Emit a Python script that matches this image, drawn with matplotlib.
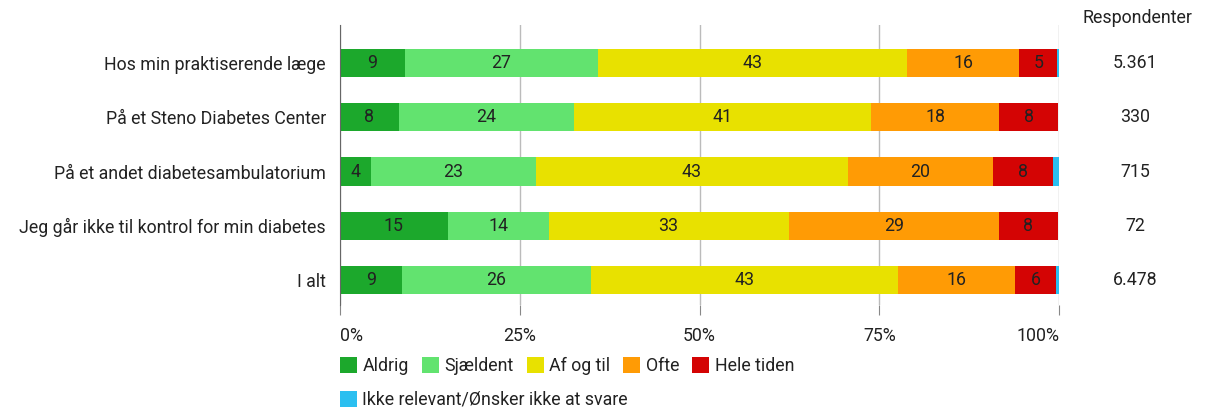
import matplotlib.pyplot as plt
import numpy as np

plt.rcParams['font.family'] = ['Roboto', 'DejaVu Sans']

# data (percent of respondents)
categories = ["Hos min praktiserende læge", "På et Steno Diabetes Center",
              "På et andet diabetesambulatorium",
              "Jeg går ikke til kontrol for min diabetes", "I alt"]
series = ["Aldrig", "Sjældent", "Af og til", "Ofte", "Hele tiden",
          "Ikke relevant/Ønsker ikke at svare"]
aldrig = [9.0, 8.2, 4.3, 15.0, 8.6]
sjaeldent = [26.9, 24.3, 22.9, 14.0, 26.3]
af_og_til = [43.0, 41.4, 43.4, 33.4, 42.7]
ofte = [15.6, 17.8, 20.2, 29.2, 16.3]
hele_tiden = [5.2, 8.2, 8.3, 8.3, 5.7]
ikke_relevant = [0.3, 0.0, 0.9, 0.0, 0.4]
respondenter = ["5.361", "330", "715", "72", "6.478"]
ticks = [0, 25, 50, 75, 100]

colors = ["#1ca82c", "#62e36f", "#e8e100", "#ff9b05", "#d40404", "#2bbff0"]
values = [aldrig, sjaeldent, af_og_til, ofte, hele_tiden, ikke_relevant]
FS = 12.8
TXT = "#222222"

fig = plt.figure(figsize=(12.06, 4.12), dpi=100)
ax = fig.add_axes([340 / 1206, 1 - 305 / 412, 719 / 1206, 280 / 412])

y = np.arange(len(categories))
left = np.zeros(len(categories))
for name, vals, c in zip(series, values, colors):
    vals = np.array(vals)
    ax.barh(y, vals, left=left, height=0.52, color=c, label=name, zorder=3)
    if name != series[-1]:
        for yi, l, v in zip(y, left, vals):
            if v >= 3:
                ax.text(l + v / 2, yi, f"{v:.0f}", ha="center", va="center",
                        fontsize=FS, color=TXT, zorder=4)
    left += vals

ax.set_xlim(0, 100)
ax.set_ylim(len(categories) - 1 + 0.46, -0.70)
ax.set_yticks(y)
ax.set_yticklabels(categories, fontsize=FS, color=TXT)
ax.tick_params(axis="y", length=0, pad=10)
ax.set_xticks(ticks)
ax.set_xticklabels([f"{t}%" for t in ticks], fontsize=FS, color=TXT)
ax.tick_params(axis="x", length=7, color="#888888", pad=9)
xl = ax.get_xticklabels()
xl[0].set_ha("left")
xl[-1].set_ha("right")
for s in ["top", "right", "bottom"]:
    ax.spines[s].set_visible(False)
ax.spines["left"].set_color("#666666")
ax.spines["left"].set_zorder(5)
ax.grid(axis="x", color="#bbbbbb", linewidth=1, zorder=0)

# Respondenter column
fig.text(1137 / 1206, 1 - 18 / 412, "Respondenter", ha="center", va="center",
         fontsize=FS, color=TXT)
for yi, r in zip(y, respondenter):
    ax.text(1.106, yi, r, transform=ax.get_yaxis_transform(), ha="center",
            va="center", fontsize=FS, color=TXT)

# legend
handles, labels = ax.get_legend_handles_labels()
leg1 = fig.legend(handles[:5], labels[:5], loc="center left",
                  bbox_to_anchor=(324 / 1206, 1 - 366 / 412), ncol=5,
                  frameon=False, fontsize=FS, handlelength=0.95, handleheight=0.95,
                  handletextpad=0.3, columnspacing=0.75)
leg2 = fig.legend(handles[5:], labels[5:], loc="center left",
                  bbox_to_anchor=(324 / 1206, 1 - 400 / 412), frameon=False,
                  fontsize=FS, handlelength=0.95, handleheight=0.95,
                  handletextpad=0.3)
for lg in (leg1, leg2):
    for t in lg.get_texts():
        t.set_color(TXT)

fig.savefig("out.png", dpi=100)
